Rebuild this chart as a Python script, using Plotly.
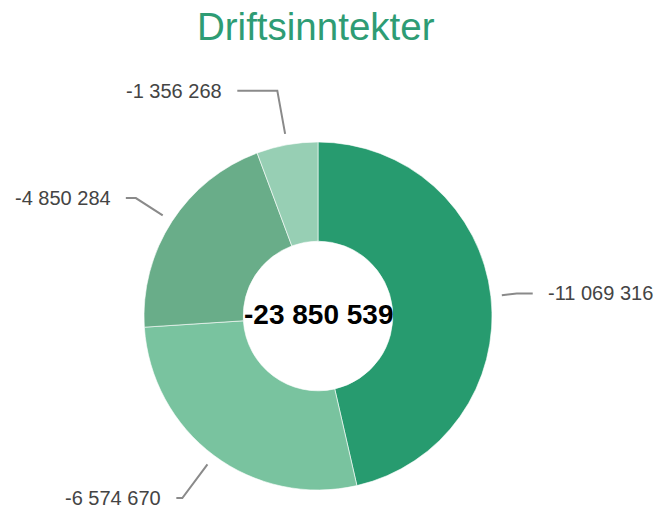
import math
import plotly.graph_objects as go

# ---- data ----
title_text = "Driftsinntekter"
values = [-11069316, -6574670, -4850284, -1356268]
value_labels = ["-11 069 316", "-6 574 670", "-4 850 284", "-1 356 268"]
total_label = "-23 850 539"

# ---- style ----
slice_colors = ["#279b6f", "#79c39f", "#69ad89", "#97cfb4"]
leader_len1 = [15, 42, 32, 44]   # radial segment length (px)
leader_len2 = [16, 6, 10, 40]    # horizontal segment length (px)

W, H = 664, 516
cx, cy, R = 318, 316, 174
hole = 0.43

def px2paper(x, y):
    return x / W, 1 - y / H

abs_vals = [abs(v) for v in values]
total = sum(abs_vals)

fig = go.Figure()
x0, y1 = px2paper(cx - R, cy - R)
x1, y0 = px2paper(cx + R, cy + R)
fig.add_trace(go.Pie(
    values=abs_vals,
    labels=value_labels,
    sort=False,
    direction="clockwise",
    rotation=0,
    hole=hole,
    textinfo="none",
    hoverinfo="label",
    marker=dict(colors=slice_colors, line=dict(color="rgba(255,255,255,0.6)", width=1)),
    domain=dict(x=[x0, x1], y=[y0, y1]),
    showlegend=False,
))

shapes = []
annotations = []
cum = 0.0
r0 = R + 11
for i, v in enumerate(abs_vals):
    mid = (cum + v / 2) / total * 2 * math.pi
    cum += v
    dx, dy = math.sin(mid), -math.cos(mid)
    p0 = (cx + r0 * dx, cy + r0 * dy)
    r1 = r0 + leader_len1[i]
    p1 = (cx + r1 * dx, cy + r1 * dy)
    side = 1 if dx >= 0 else -1
    p2 = (p1[0] + side * leader_len2[i], p1[1])
    pts = [px2paper(*p) for p in (p0, p1, p2)]
    path = "M {} {} L {} {} L {} {}".format(pts[0][0], pts[0][1], pts[1][0], pts[1][1], pts[2][0], pts[2][1])
    shapes.append(dict(type="path", path=path, xref="paper", yref="paper",
                       line=dict(color="#8a8a8a", width=2)))
    tx, ty = px2paper(p2[0] + side * 13, p2[1])
    annotations.append(dict(
        x=tx, y=ty, xref="paper", yref="paper", text=value_labels[i], showarrow=False,
        xanchor="left" if side > 0 else "right", yanchor="middle",
        font=dict(family="Liberation Sans, Arial, sans-serif", size=20, color="#444444"),
    ))

mx, my = px2paper(cx, cy - 2)
annotations.append(dict(
    x=mx, y=my, xref="paper", yref="paper", text="<b>" + total_label + "</b>", showarrow=False,
    xanchor="center", yanchor="middle",
    font=dict(family="Liberation Sans, Arial, sans-serif", size=28, color="#000000"),
))

tx, ty = px2paper(316, 27)
annotations.append(dict(
    x=tx, y=ty, xref="paper", yref="paper", text=title_text, showarrow=False,
    xanchor="center", yanchor="middle",
    font=dict(family="Liberation Sans, Arial, sans-serif", size=38.5, color="#2e9c74"),
))

fig.update_layout(
    width=W, height=H, autosize=False,
    margin=dict(l=0, r=0, t=0, b=0),
    paper_bgcolor="white", plot_bgcolor="white",
    shapes=shapes, annotations=annotations,
)

fig.write_html("out.html", config={"displayModeBar": False},
               post_script="document.body.style.margin='0';")
